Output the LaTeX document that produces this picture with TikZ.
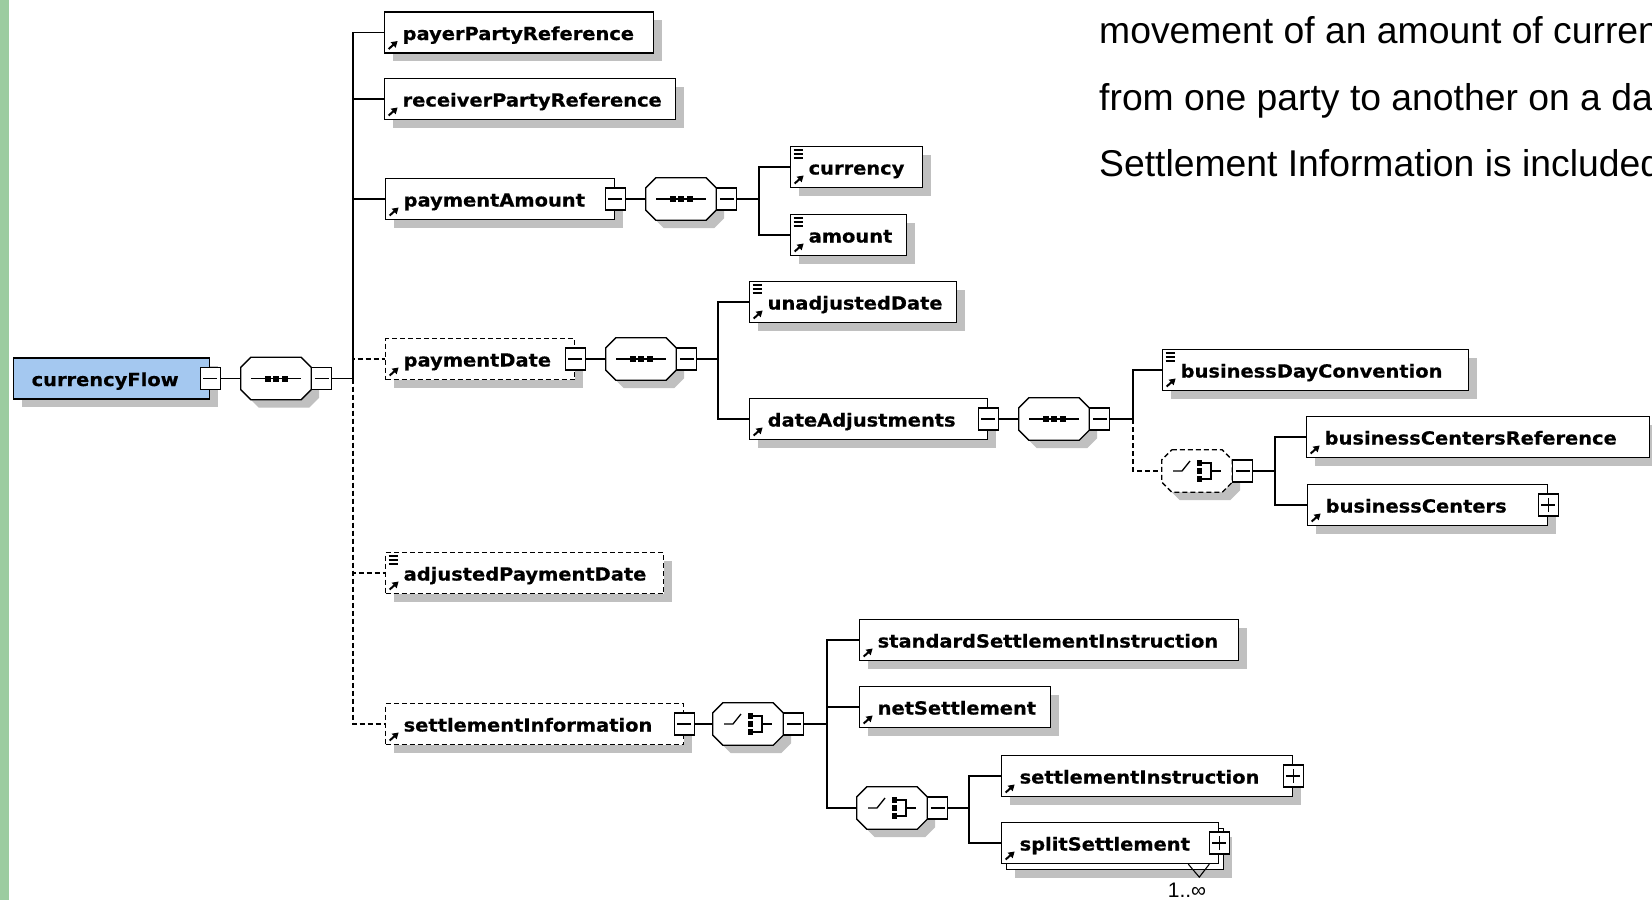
\documentclass[tikz,border=0pt]{standalone}
\usepackage{fontspec}
\usepackage{tikz}
\usetikzlibrary{shadows,arrows.meta}
\setmainfont{Liberation Sans}
\newfontfamily\elemfont{DejaVu Sans}[FakeStretch=1.08, BoldFeatures={FakeBold=0.6}]
\definecolor{rootblue}{RGB}{164,200,240}
\definecolor{shadegray}{RGB}{192,192,192}
\definecolor{sidebar}{RGB}{156,204,160}

% small icons drawn inside the boxes
\newcommand\refarrow{\draw[solid, line width=2pt, -{Triangle[length=6pt,width=7pt]}]
  ([shift={(4pt,4pt)}]path picture bounding box.south west) -- ++(9pt,8pt);}
\newcommand\typemark{\foreach \dy in {3.5,7.5,11.5}
  \draw[solid, line width=1.1pt] ([shift={(3pt,-\dy pt)}]path picture bounding box.north west) -- ++(9pt,0pt);}
\newcommand\seqmark{%
  \draw[solid, line width=1.3pt] ([xshift=-25pt]path picture bounding box.center) -- ([xshift=25pt]path picture bounding box.center);
  \foreach \dx in {-8.5,0,8.5}
    \fill[black] ([shift={(\dx pt-3pt,-3pt)}]path picture bounding box.center) rectangle ++(6pt,6pt);}
\newcommand\choicemark{%
  \coordinate (m) at (path picture bounding box.center);
  \draw[solid, line width=1.3pt] ([xshift=-24pt]m) -- ([xshift=-15pt]m) -- ([shift={(-7pt,10pt)}]m);
  \foreach \dy in {-8,0,8}
    \fill[black] ([shift={(-0.5pt,\dy pt-3pt)}]m) rectangle ++(5pt,6pt);
  \draw[solid, line width=1.3pt] ([shift={(4.5pt,8pt)}]m) -| ([shift={(14pt,-8pt)}]m) -- ([shift={(4.5pt,-8pt)}]m);
  \draw[solid, line width=1.3pt] ([xshift=14pt]m) -- ([xshift=24pt]m);}

\begin{document}
\begin{tikzpicture}[x=1pt, y=-1pt,
    box/.style={draw, fill=white, line width=1.3pt, minimum height=41pt, inner sep=0pt,
      anchor=west, text height=18pt, text depth=3pt,
      font=\elemfont\bfseries\fontsize{18}{20}\selectfont,
      execute at begin node={\noindent\hspace*{18pt}}, path picture={\refarrow}},
    shadowed/.style={drop shadow={shadow xshift=8pt, shadow yshift=-8pt, fill=shadegray, opacity=1}},
    elem/.style={box, shadowed, text width=#1},
    simple/.style={path picture={\refarrow\typemark}},
    opt/.style={dash pattern=on 5pt off 3pt},
    root/.style={elem=#1, fill=rootblue, path picture={}},
    comp/.style 2 args={minimum width=70pt, minimum height=42pt, inner sep=0pt,
      append after command={\pgfextra{\draw[shadowed, fill=white, line width=1.3pt, #2, path picture={#1}]
        ([xshift=10pt]\tikzlastnode.north west) -- ([xshift=-10pt]\tikzlastnode.north east)
        -- ([yshift=-10pt]\tikzlastnode.north east) -- ([yshift=10pt]\tikzlastnode.south east)
        -- ([xshift=-10pt]\tikzlastnode.south east) -- ([xshift=10pt]\tikzlastnode.south west)
        -- ([yshift=10pt]\tikzlastnode.south west) -- ([yshift=-10pt]\tikzlastnode.north west) -- cycle;}}},
    seq/.style={comp={\seqmark}{solid}},
    choice/.style={comp={\choicemark}{solid}},
    ochoice/.style={comp={\choicemark}{opt}},
    tog/.style={draw, solid, fill=white, line width=1.2pt, minimum width=20pt, minimum height=22pt, inner sep=0pt},
    minus/.style={tog, path picture={\draw[line width=1.2pt] ([xshift=-7pt]path picture bounding box.center) -- ([xshift=7pt]path picture bounding box.center);}},
    plus/.style={tog, path picture={\draw[line width=1.2pt] ([xshift=-7pt]path picture bounding box.center) -- ([xshift=7pt]path picture bounding box.center);
      \draw[line width=1.2pt] ([yshift=-7pt]path picture bounding box.center) -- ([yshift=7pt]path picture bounding box.center);}},
    wire/.style={line width=1.3pt},
    owire/.style={wire, opt},
  ]
  \useasboundingbox (0,0) rectangle (1652,900);
  \clip (0,0) rectangle (1652,900);
  \fill[white] (0,0) rectangle (1652,900);
  \fill[sidebar] (0,0) rectangle (9,900);

  % root and first sequence
  \node[root=196pt] (cf) at (13,378.5) {currencyFlow};
  \node[minus] (cft) at (cf.east) {};
  \node[seq] (s1) at (276,378.5) {};
  \node[minus, anchor=west] (s1t) at (s1.east) {};
  \coordinate (t1) at (353,378.5);

  \node[elem=269pt] (payer) at (384,32.5) {payerPartyReference};
  \node[elem=291pt] (recv) at (384,99) {receiverPartyReference};
  \node[elem=229pt] (pamt) at (385,199) {paymentAmount};
  \node[minus] (pamtt) at (pamt.east) {};
  \node[elem=189pt, opt] (pdate) at (385,359) {paymentDate};
  \node[minus] (pdatet) at (pdate.east) {};
  \node[elem=278pt, simple, opt] (apd) at (385,573) {adjustedPaymentDate};
  \node[elem=298pt, opt] (sinf) at (385,724) {settlementInformation};
  \node[minus] (sinft) at (sinf.east) {};

  % paymentAmount
  \node[seq] (s2) at (681,199) {};
  \node[minus, anchor=west] (s2t) at (s2.east) {};
  \coordinate (b2) at (759,199);
  \node[elem=132pt, simple] (cur) at (790,167) {currency};
  \node[elem=116pt, simple] (amt) at (790,235) {amount};

  % paymentDate
  \node[seq] (s3) at (641,359) {};
  \node[minus, anchor=west] (s3t) at (s3.east) {};
  \coordinate (b3) at (718,359);
  \node[elem=207pt, simple] (udate) at (749,302) {unadjustedDate};
  \node[elem=238pt] (dadj) at (749,419) {dateAdjustments};
  \node[minus] (dadjt) at (dadj.east) {};

  % dateAdjustments
  \node[seq] (s4) at (1054,419) {};
  \node[minus, anchor=west] (s4t) at (s4.east) {};
  \coordinate (b4) at (1133,419);
  \node[elem=306pt, simple] (bdc) at (1162,370) {businessDayConvention};
  \node[ochoice] (c1) at (1197,471) {};
  \node[minus, anchor=west] (c1t) at (c1.east) {};
  \coordinate (b5) at (1275,471);
  \node[elem=343pt] (bcr) at (1306,437) {businessCentersReference};
  \node[elem=240pt] (bc) at (1307,505) {businessCenters};
  \node[plus] (bct) at (bc.east) {};

  % settlementInformation
  \node[choice] (c2) at (748,724) {};
  \node[minus, anchor=west] (c2t) at (c2.east) {};
  \coordinate (b6) at (827,724);
  \node[elem=379pt] (ssi) at (859,640) {standardSettlementInstruction};
  \node[elem=191pt] (net) at (859,707) {netSettlement};
  \node[choice] (c3) at (892,808) {};
  \node[minus, anchor=west] (c3t) at (c3.east) {};
  \coordinate (b7) at (969,808);
  \node[elem=291pt] (si) at (1001,776) {settlementInstruction};
  \node[plus] (sit) at (si.east) {};
  \node[box, shadowed, text width=217pt, path picture={}] (ssb) at (1006,849) {};
  \node[box, text width=217pt] (ss) at (1001,843) {splitSettlement};
  \node[plus] (sst) at (ss.east) {};
  \draw[line width=1.1pt] ([xshift=-31pt]ss.south east) -- ++(11pt,-13pt) -- ++(10pt,13pt);
  \node[inner sep=0pt, font=\fontsize{21}{24}\selectfont] (mult) at (1187,890) {1..∞};

  % description
  \node[anchor=base west, inner sep=0pt, font=\fontsize{37.3}{40}\selectfont] (txt1) at (1099,43) {movement of an amount of currency};
  \node[anchor=base west, inner sep=0pt, font=\fontsize{37.3}{40}\selectfont] (txt2) at (1099,110) {from one party to another on a date};
  \node[anchor=base west, inner sep=0pt, font=\fontsize{37.3}{40}\selectfont] (txt3) at (1099,176) {Settlement Information is included};

  % connectors
  \draw[wire] (cft.east) -- (s1.west);
  \draw[wire] (s1t.east) -- (t1);
  \draw[wire] (t1) |- (payer.west);
  \draw[wire] (t1) |- (recv.west);
  \draw[wire] (t1) |- (pamt.west);
  \draw[owire] (t1) |- (pdate.west);
  \draw[owire] (t1) |- (apd.west);
  \draw[owire] (t1) |- (sinf.west);

  \draw[wire] (pamtt.east) -- (s2.west);
  \draw[wire] (s2t.east) -- (b2);
  \draw[wire] (b2) |- (cur.west);
  \draw[wire] (b2) |- (amt.west);

  \draw[wire] (pdatet.east) -- (s3.west);
  \draw[wire] (s3t.east) -- (b3);
  \draw[wire] (b3) |- (udate.west);
  \draw[wire] (b3) |- (dadj.west);

  \draw[wire] (dadjt.east) -- (s4.west);
  \draw[wire] (s4t.east) -- (b4);
  \draw[wire] (b4) |- (bdc.west);
  \draw[owire] (b4) |- (c1.west);
  \draw[wire] (c1t.east) -- (b5);
  \draw[wire] (b5) |- (bcr.west);
  \draw[wire] (b5) |- (bc.west);

  \draw[wire] (sinft.east) -- (c2.west);
  \draw[wire] (c2t.east) -- (b6);
  \draw[wire] (b6) |- (ssi.west);
  \draw[wire] (b6) |- (net.west);
  \draw[wire] (b6) |- (c3.west);
  \draw[wire] (c3t.east) -- (b7);
  \draw[wire] (b7) |- (si.west);
  \draw[wire] (b7) |- (ss.west);
\end{tikzpicture}
\end{document}
